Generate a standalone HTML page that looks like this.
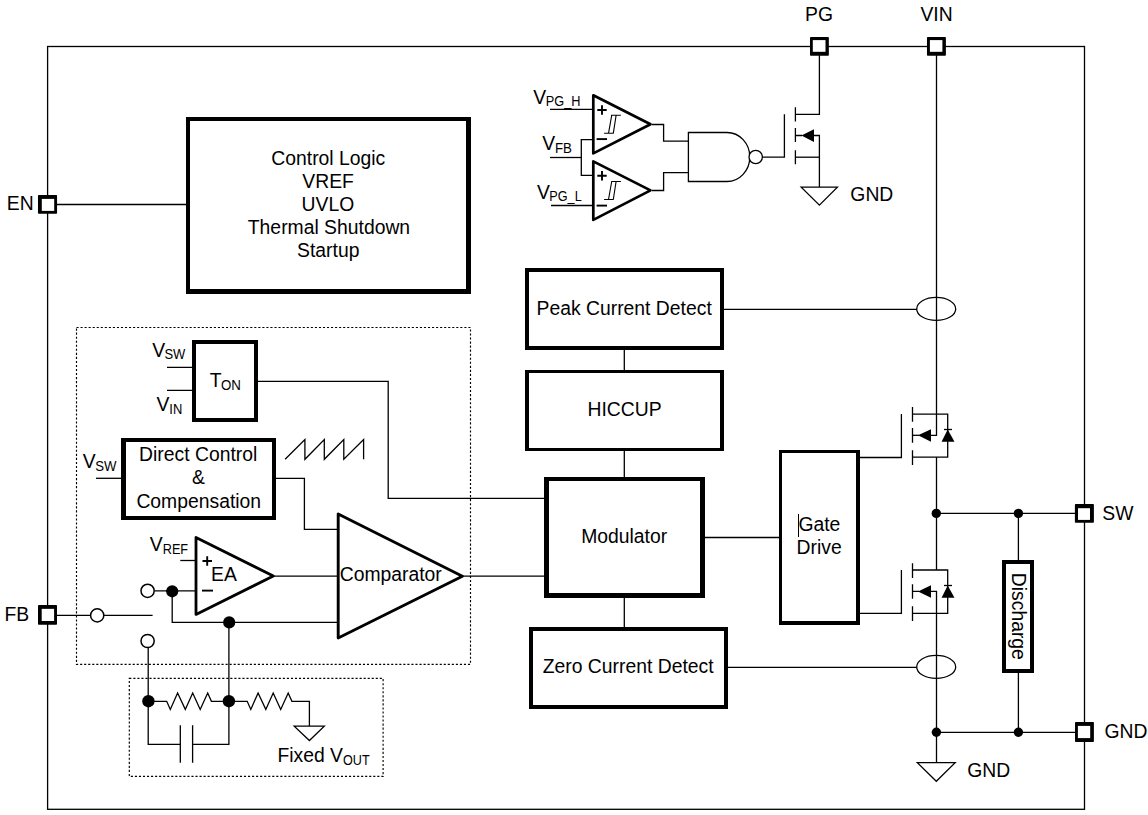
<!DOCTYPE html>
<html><head><meta charset="utf-8"><style>
html,body{margin:0;padding:0;background:#fff;}
body{width:1148px;height:815px;overflow:hidden;}
svg{display:block;}
text{font-family:"Liberation Sans",sans-serif;fill:#000;}
.t{font-size:19.6px;}
.s{font-size:13.8px;}
.l{stroke:#000;stroke-width:1.3;fill:none;}
.b{stroke:#000;stroke-width:4.3;fill:#fff;}
.p{stroke:#000;stroke-width:3.4;fill:#fff;}
.d{stroke:#000;stroke-width:1.15;fill:none;stroke-dasharray:2.1 1.94;}
.k{fill:#000;stroke:none;}
.o{stroke:#000;stroke-width:1.5;fill:#fff;}
.tri{stroke:#000;stroke-width:3;fill:#fff;stroke-linejoin:round;}
</style></head><body>
<svg width="1148" height="815" viewBox="0 0 1148 815">
<rect width="1148" height="815" fill="#fff"/>
<!-- outer border -->
<rect class="l" x="47.6" y="46.5" width="1036.9" height="762.8"/>


<!-- SECTION: blocks -->
<g>
<rect x="186" y="117" width="285" height="177" fill="#000"/><rect x="190" y="121" width="276" height="168" fill="#fff"/>
<rect x="525" y="268" width="199" height="82" fill="#000"/><rect x="529" y="272" width="191" height="74" fill="#fff"/>
<rect x="525" y="370" width="199" height="81" fill="#000"/><rect x="529" y="373" width="191" height="75" fill="#fff"/>
<rect x="544" y="477" width="161" height="121" fill="#000"/><rect x="549" y="481" width="151" height="112" fill="#fff"/>
<rect x="529" y="627" width="199" height="82" fill="#000"/><rect x="533" y="631" width="191" height="74" fill="#fff"/>
<rect x="192" y="340" width="66" height="82" fill="#000"/><rect x="196" y="344" width="58" height="74" fill="#fff"/>
<rect x="121" y="438" width="155" height="82" fill="#000"/><rect x="126" y="442" width="146" height="74" fill="#fff"/>
<rect x="1002" y="560" width="32" height="113" fill="#000"/><rect x="1006" y="564" width="24" height="105" fill="#fff"/>
<rect x="779" y="450" width="81" height="175" fill="#000"/><rect x="782" y="453" width="74" height="168" fill="#fff"/>
</g>
<!-- SECTION: wires -->
<g class="l">
<!-- EN -->
<path d="M57 204.5H186"/>
<!-- PG comparators inputs -->
<path d="M550 109.3H593"/>
<path d="M550 157.5H581.3"/>
<path d="M593 139.6H581.3V175.3H593"/>
<path d="M551 205.5H593"/>
<path d="M652 124.5H663.6V141.2H688.5"/>
<path d="M652 190.5H663.6V172.6H688.5"/>
<!-- NAND out to gate -->
<path d="M762.7 157.2H784.4V114.3"/>
<!-- PG mosfet -->
<path d="M819.4 55V114.3H795.4"/>
<path d="M795.4 107.3V121.4M795.4 127.9V142M795.4 150.2V164.3"/>
<path d="M795.4 135.5H802M813 135.5H819.4V187.1"/>
<path d="M795.4 157.2H819.4"/>
<path d="M801.2 187.1H837.4L819.4 205.2Z"/>
<!-- VIN rail -->
<path d="M936.5 55V435.3H930"/>
<!-- Peak current -->
<path d="M723 309.4H916.7"/>
<path d="M624.3 349V371M624.3 450V477M624.3 597V628"/>
<!-- HS mosfet -->
<path d="M860 457.5H901.4V414"/>
<path d="M912.5 407.1V421.8M912.5 428.1V442.8M912.5 450.2V465"/>
<path d="M912.5 414.1H947.7V457.1H912.5"/>
<path d="M912.5 435.3H919"/>
<path d="M944 429.5H952"/>
<path d="M936.5 457.1V570"/>
<!-- LS mosfet -->
<path d="M860 613.3H901.4V570"/>
<path d="M912.5 563.2V577.9M912.5 584.2V598.8M912.5 606.2V620.9"/>
<path d="M912.5 570H947.7V613.3H912.5"/>
<path d="M912.5 591.4H919M930 591.4H936.5V762.6"/>
<path d="M944 585.5H952"/>
<!-- SW -->
<path d="M936.5 513.4H1075"/>
<path d="M1018.4 513.4V561M1018.4 671V732.4"/>
<!-- GND -->
<path d="M936.5 732.4H1075"/>
<path d="M917.3 762.6H955.2L936.3 781.3Z"/>
<!-- Zero current -->
<path d="M727 667.4H916.7"/>
<!-- Modulator -->
<path d="M704 537.5H779"/>
<path d="M462.5 576.1H545"/>
<!-- TON -->
<path d="M167 367.3H193M167 390.3H193"/>
<path d="M257 381.3H388.2V498.3H545"/>
<!-- Direct control -->
<path d="M96 478.3H122"/>
<path d="M275 478.3H304.4V529.3H338.1"/>
<path d="M285.1 459.3L304.9 439.6V459.3L324.3 439.6V459.3L343.8 439.6V459.3L363.6 439.6V459.3"/>
<!-- EA -->
<path d="M180.3 560.5H195.5"/>
<path d="M274 576.1H338.1"/>
<path d="M154.5 590.9H195.5"/>
<path d="M172.2 591.3V622.4H338.1"/>
<!-- FB -->
<path d="M57 615.4H90.5M104 615.4H152.6"/>
<path d="M148.2 648V744.4H180.3M192.6 744.4H228.9V622.4"/>
<path d="M180.3 725.3V762.7M192.6 725.3V762.7"/>
<path d="M148.4 701.3H166.7L170.3 709.4L177.6 693L185.3 709.4L192.7 693L200.2 709.4L207.7 693L211.4 701.3H247.2L250.8 709.4L258.1 693L265.8 709.4L273.2 693L280.7 709.4L288.2 693L291.9 701.3H309.4V726.1"/>
<path d="M294.2 726.1H324.3L309.4 740.5Z"/>
</g>
<g class="d">
<rect x="76.5" y="327.5" width="394" height="336.8"/>
<rect x="129.3" y="678.4" width="253.8" height="98"/>
</g>
<!-- SECTION: pins -->
<g>
<rect x="810.00" y="37.07" width="18.85" height="18.68" rx="0.8" fill="#000"/><rect x="812.80" y="40.10" width="12.70" height="11.70" fill="#fff"/>
<rect x="926.97" y="37.07" width="18.93" height="18.68" rx="0.8" fill="#000"/><rect x="929.90" y="40.10" width="12.50" height="11.70" fill="#fff"/>
<rect x="37.98" y="194.98" width="19.08" height="18.82" rx="0.8" fill="#000"/><rect x="41.80" y="198.90" width="12.40" height="12.00" fill="#fff"/>
<rect x="38.00" y="604.90" width="19.00" height="19.90" rx="0.8" fill="#000"/><rect x="41.70" y="608.85" width="12.40" height="12.15" fill="#fff"/>
<rect x="1074.90" y="504.00" width="19.00" height="18.80" rx="0.8" fill="#000"/><rect x="1078.00" y="508.20" width="12.00" height="11.70" fill="#fff"/>
<rect x="1075.00" y="721.90" width="18.90" height="20.10" rx="0.8" fill="#000"/><rect x="1077.90" y="725.90" width="12.30" height="12.20" fill="#fff"/>
</g>
<!-- SECTION: symbols -->
<g class="tri">
<path style="stroke-width:2.7" d="M593.3 95.3V153.4L650.5 124.3Z"/>
<path style="stroke-width:2.7" d="M593.3 161.4V219.9L650.5 190.4Z"/>
<path style="stroke-width:2.8" d="M196 537.4V614.4L273.3 576Z"/>
<path style="stroke-width:2.9" d="M338.2 514V638L462.4 576.2Z"/>
</g>
<!-- NAND -->
<path class="l" style="fill:#fff" d="M688.4 132.5H727A22.8 24.5 0 0 1 727 181.5H688.4Z"/>
<circle class="l" style="fill:#fff" cx="755.7" cy="157" r="6.7"/>
<!-- arrows -->
<path class="k" d="M801.4 135.5L814 129.3V142Z"/>
<path class="k" d="M918 435.3L931 429.2V441.7Z"/>
<path class="k" d="M918 591.4L931 585.2V597.7Z"/>
<path class="k" d="M947.7 429.5L954.5 441.7H941.6Z"/>
<path class="k" d="M947.7 585.5L954.5 597.7H941.6Z"/>
<!-- current sense -->
<ellipse class="l" cx="936.2" cy="308.9" rx="19.5" ry="11.5"/>
<ellipse class="l" cx="936.2" cy="666.9" rx="19.5" ry="11.5"/>
<!-- dots -->
<circle class="k" cx="936.3" cy="513.4" r="4.7"/>
<circle class="k" cx="1018.4" cy="513.4" r="4.7"/>
<circle class="k" cx="936.4" cy="732.3" r="4.7"/>
<circle class="k" cx="1018.4" cy="732.3" r="4.7"/>
<circle class="k" cx="172.2" cy="591.3" r="6.1"/>
<circle class="k" cx="229.2" cy="622.4" r="6.1"/>
<circle class="k" cx="148.4" cy="701.2" r="6.2"/>
<circle class="k" cx="228.9" cy="701.2" r="6.2"/>
<!-- open circles -->
<circle class="o" cx="97.2" cy="615.4" r="6.6"/>
<circle class="o" cx="147.6" cy="590.8" r="6.6"/>
<circle class="o" cx="147.6" cy="641" r="6.6"/>
<!-- hysteresis -->
<g class="l" style="stroke-width:1.1">
<path d="M604.1 133.3H613.7M611.2 115.3H620.9M608.5 133.3L611.7 115.3M613.3 133.3L616.1 115.3"/>
<path d="M604.1 199.5H613.7M611.2 181.5H620.9M608.5 199.5L611.7 181.5M613.3 199.5L616.1 181.5"/>
</g>
<!-- plus/minus -->
<g style="stroke:#000;stroke-width:1.9;fill:none">
<path d="M597.3 110H606.7M602 105.3V114.7"/>
<path d="M596.6 139.1H607"/>
<path d="M597.3 175.8H606.7M602 171.1V180.5"/>
<path d="M596.6 205.6H607"/>
<path d="M202.5 561H212M207.2 556.3V565.7"/>
<path d="M202 590.6H213"/>
</g>
<!-- SECTION: text -->
<g class="t" transform="scale(0.987,1)">
<text x="815.61" y="21">PG</text>
<text x="932.57" y="21">VIN</text>
<text x="6.85" y="210">EN</text>
<text x="4.57" y="621">FB</text>
<text x="1116.77" y="520">SW</text>
<text x="1119.02" y="738">GND</text>
<text x="861.55" y="201">GND</text>
<text x="979.91" y="777">GND</text>
<text x="274.88" y="165">Control Logic</text>
<text x="306.27" y="188">VREF</text>
<text x="305.55" y="211">UVLO</text>
<text x="251.07" y="234">Thermal Shutdown</text>
<text x="300.99" y="257">Startup</text>
<text x="543.62" y="315">Peak Current Detect</text>
<text x="595.21" y="416">HICCUP</text>
<text x="588.81" y="543">Modulator</text>
<text x="549.85" y="673">Zero Current Detect</text>
<text x="808.95" y="531">Gate</text>
<text x="807.10" y="554">Drive</text>
<text x="140.90" y="461">Direct Control</text>
<text x="194.43" y="484">&amp;</text>
<text x="138.20" y="508">Compensation</text>
<text x="213.91" y="581">EA</text>
<text x="344.14" y="581">Comparator</text>
<text x="281.04" y="762">Fixed V</text>
<text x="154.32" y="357">V</text>
<text x="158.68" y="411">V</text>
<text x="212.45" y="387">T</text>
<text x="83.73" y="468">V</text>
<text x="151.81" y="551">V</text>
<text x="540.33" y="104">V</text>
<text x="549.45" y="150">V</text>
<text x="544.16" y="199">V</text>
</g>
<text class="s" transform="scale(0.9140,1)" x="375.34" y="765">OUT</text>
<text class="s" transform="scale(0.9418,1)" x="174.59" y="359">SW</text>
<text class="s" transform="scale(0.9383,1)" x="180.44" y="414">IN</text>
<text class="s" transform="scale(0.9624,1)" x="229.61" y="390">ON</text>
<text class="s" transform="scale(0.9572,1)" x="99.45" y="471">SW</text>
<text class="s" transform="scale(0.9188,1)" x="177.12" y="554">REF</text>
<text class="s" transform="scale(0.9236,1)" x="591.03" y="106">PG_H</text>
<text class="s" transform="scale(0.9647,1)" x="575.28" y="153">FB</text>
<text class="s" transform="scale(0.9190,1)" x="597.68" y="201">PG_L</text>
<text class="t" transform="translate(1011.9,572.8) rotate(90) scale(0.987,1)">Discharge</text>
<path class="l" style="stroke-width:1" d="M798.5 514V537"/>
</svg>
</body></html>
